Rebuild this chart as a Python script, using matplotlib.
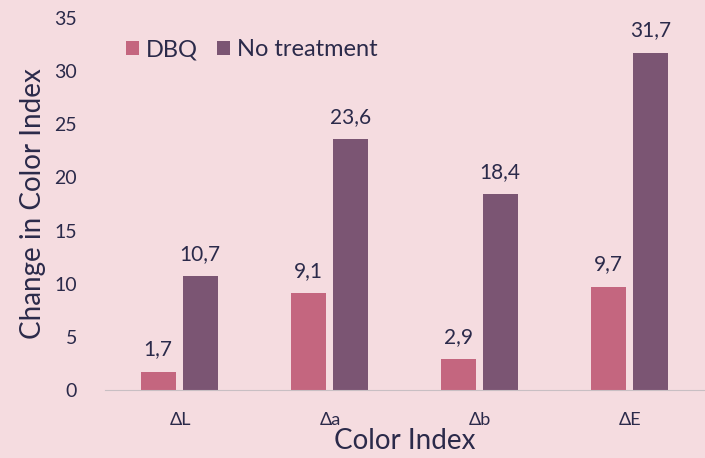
import numpy as np
import matplotlib.pyplot as plt

categories = ['ΔL', 'Δa', 'Δb', 'ΔE']
dbq = [1.7, 9.1, 2.9, 9.7]
no_treatment = [10.7, 23.6, 18.4, 31.7]
yticks = [0, 5, 10, 15, 20, 25, 30, 35]

bg = '#F5DCE0'
txt = '#2B2A4A'
c_dbq = '#C4667F'
c_none = '#7B5573'

plt.rcParams['font.family'] = ['Lato', 'DejaVu Sans']

fig = plt.figure(figsize=(7.05, 4.58), dpi=100, facecolor=bg)
ax = fig.add_axes([105/705, 68/458, 600/705, 372/458], facecolor=bg)

x = np.arange(len(categories))
w = 0.23
b1 = ax.bar(x - 0.145, dbq, w, color=c_dbq, label='DBQ')
b2 = ax.bar(x + 0.135, no_treatment, w, color=c_none, label='No treatment')

for bars, vals in [(b1, dbq), (b2, no_treatment)]:
    for r, v in zip(bars, vals):
        ax.annotate(f'{v:.1f}'.replace('.', ','), (r.get_x() + r.get_width()/2, v),
                    xytext=(0, 9), textcoords='offset points', ha='center', va='bottom',
                    fontsize=15, color=txt)

ax.set_xlim(-0.5, 3.5)
ax.set_ylim(0, 35)
ax.set_yticks(yticks)
ax.set_xticks(x)
ax.set_xticklabels(categories, fontsize=13, color=txt)
ax.tick_params(axis='y', labelsize=14, colors=txt, length=0, pad=20)
ax.tick_params(axis='x', length=0, pad=16)

for s in ['top', 'right', 'left']:
    ax.spines[s].set_visible(False)
ax.spines['bottom'].set_color('#C8BFC3')

ax.set_ylabel('Change in Color Index', fontsize=20, color=txt, labelpad=6)
ax.set_xlabel('Color Index', fontsize=20, color=txt, labelpad=0)

ax.legend(loc='upper left', bbox_to_anchor=(0.0, 1.0), ncol=2, frameon=False,
          fontsize=17, labelcolor=txt, handlelength=0.55, handleheight=0.55,
          handletextpad=0.3, columnspacing=0.8)

fig.savefig('out.png', dpi=100, facecolor=bg)
